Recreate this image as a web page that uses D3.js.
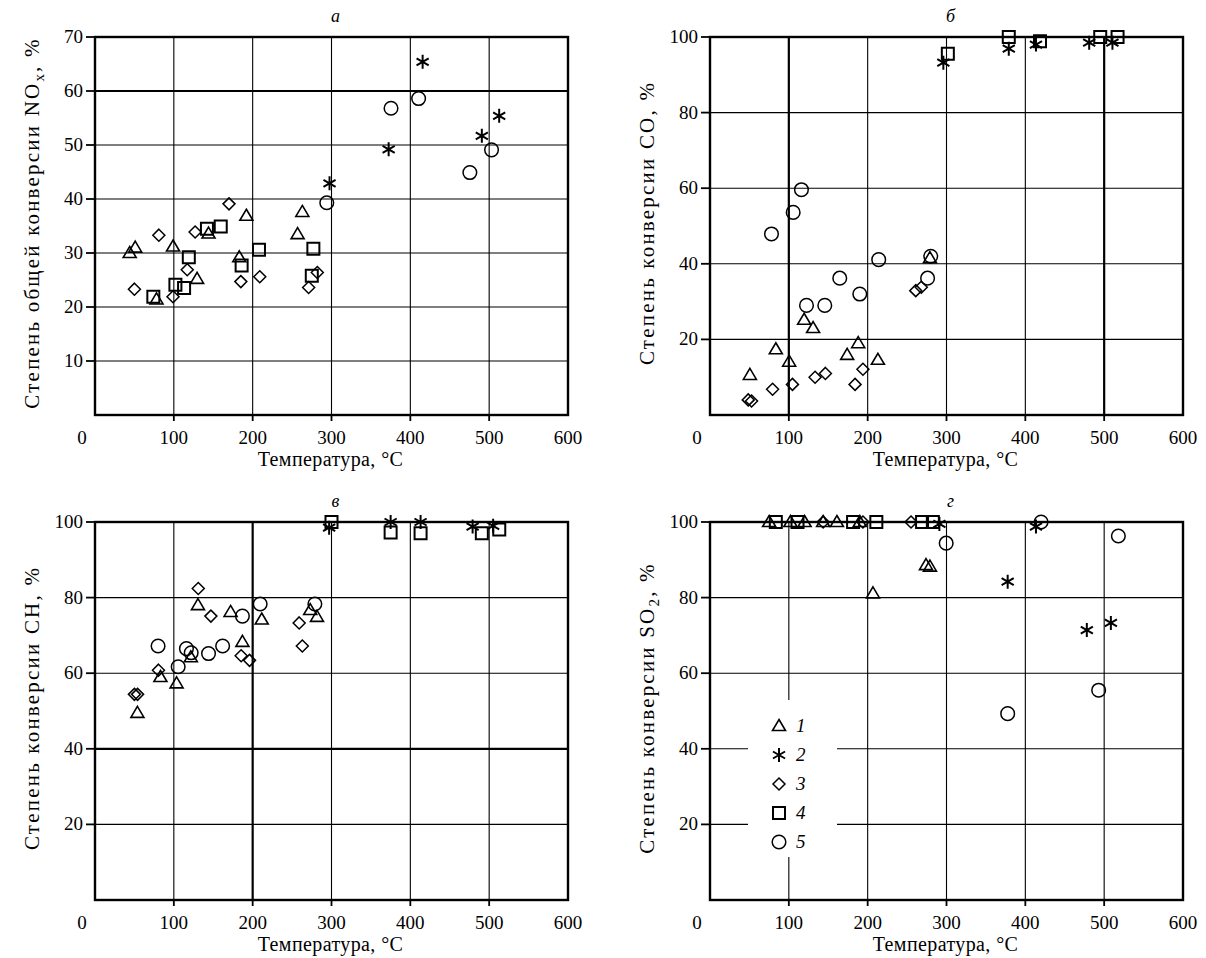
<!DOCTYPE html>
<html>
<head>
<meta charset="utf-8">
<script src="https://cdn.jsdelivr.net/npm/d3@7"></script>
<style>
body { margin: 0; background: #fff; }
svg text { font-family: "Liberation Serif", "DejaVu Serif", serif; fill: #000; }
</style>
</head>
<body>
<svg id="fig" width="1206" height="958" font-family="Liberation Serif"></svg>
<script>
// ---- data: [temperature, conversion %] ----
var xTicks = [100, 200, 300, 400, 500, 600];
var yTicksA = [10, 20, 30, 40, 50, 60, 70];
var yTicks100 = [20, 40, 60, 80, 100];
var legendLabels = ['1', '2', '3', '4', '5'];

// а : NOx
var aTri  = [[44,30.0],[51,31.0],[78,21.4],[99,31.2],[129.5,25.2],[144,33.6],[183,29.2],[192,36.9],[257,33.5],[263,37.6]];
var aStar = [[297.5,42.9],[372.5,49.2],[415.6,65.4],[490.7,51.7],[512.7,55.4]];
var aDiam = [[50,23.3],[81,33.3],[99,21.9],[117,26.9],[127,33.9],[170,39.1],[185,24.7],[209,25.6],[271,23.6],[282,26.4]];
var aSq   = [[74,21.9],[102,24.1],[113,23.5],[119,29.2],[142,34.5],[159.5,34.9],[186,27.7],[208,30.6],[275,25.8],[277,30.8]];
var aCirc = [[294,39.3],[375.5,56.8],[410.5,58.6],[475.5,44.9],[503,49.1]];

// б : CO
var bTri  = [[50.6,10.6],[83.5,17.4],[100.4,14.1],[119.4,25.2],[130.8,23.0],[174,15.9],[188,19.0],[213,14.6],[279,41.5]];
var bStar = [[296,93.2],[379,96.9],[413.5,98],[481,98.5],[510.5,98.5]];
var bDiam = [[48.5,4.0],[52.7,3.7],[79.4,6.8],[104.6,8.1],[133.3,10.0],[146.4,11.0],[184,8.1],[194,12.1],[261,32.9],[268,33.8]];
var bSq   = [[301.7,95.6],[379,100],[418.6,98.9],[495,100],[517,100]];
var bCirc = [[78,47.9],[105.5,53.6],[116,59.6],[122.4,29.0],[145.6,29.0],[164.6,36.2],[190,32.0],[214,41.1],[276,36.2],[280,42]];

// в : CH
var cTri  = [[53.8,49.5],[83,59.0],[103.5,57.3],[121.6,64.2],[130.6,78.0],[172,76.2],[187,68.3],[211.5,74.2],[273,76.7],[281.6,74.9]];
var cStar = [[297,98.5],[375,100],[413,100],[479,98.8],[505,99]];
var cDiam = [[50,54.4],[54,54.4],[80.5,60.8],[131,82.4],[147,75.1],[185.4,64.6],[196,63.4],[259,73.3],[263,67.2]];
var cSq   = [[300,100],[375,97.2],[413,97],[490.7,97],[512.8,98]];
var cCirc = [[80,67.2],[105.5,61.7],[116,66.5],[122,65.4],[144,65.2],[161.9,67.2],[187,75.1],[209.5,78.3],[278.9,78.3]];

// г : SO2
var dTri  = [[75,100],[102,100],[120,100],[143.5,100],[161,100],[190,100],[206.7,81.1],[274,88.6],[279,88.2]];
var dStar = [[291,99.5],[377.6,84.2],[413.5,98.8],[478,71.4],[508.5,73.3]];
var dDiam = [[143.5,100],[194,100],[255,100]];
var dSq   = [[83.5,100],[111,100],[181.5,100],[211,100],[269,100],[282.7,100]];
var dCirc = [[299.6,94.4],[377.6,49.3],[420,100],[493,55.5],[518,96.3]];

var svg = d3.select('#fig');
var W = 473, H = 378;

// marker path builders
function markerPath(kind) {
  if (kind == 'tri') return 'M0,-6.5L6.5,4.5L-6.5,4.5Z';
  if (kind == 'sq') return 'M-6,-6H6V6H-6Z';
  if (kind == 'diam') return 'M0,-6L6,0L0,6L-6,0Z';
  if (kind == 'circ') return 'M6.8,0A6.8,6.8 0 1 1 -6.8,0A6.8,6.8 0 1 1 6.8,0Z';
  // asterisk: vertical + two diagonals
  var r = 7, t = r / 2, u = t * Math.sqrt(3);
  return 'M0,' + r + 'L0,' + (-r) + 'M' + (-u) + ',' + (-t) + 'L' + u + ',' + t +
         'M' + (-u) + ',' + t + 'L' + u + ',' + (-t);
}
var kinds = ['tri', 'star', 'diam', 'sq', 'circ'];
var strokeW = {tri: 1.6, star: 2, diam: 1.5, sq: 2, circ: 1.5};

function drawPanel(p) {
  var g = svg.append('g').attr('transform', 'translate(' + [p.left, p.top] + ')');
  var x = d3.scaleLinear().domain([0, 600]).range([0, W]);
  var y = d3.scaleLinear().domain([0, p.ymax]).range([H, 0]);

  // grid
  g.selectAll('.vg').data([100, 200, 300, 400, 500]).enter().append('line')
    .attr('x1', function(d) { return x(d); }).attr('x2', function(d) { return x(d); })
    .attr('y1', 0).attr('y2', H)
    .attr('stroke', '#000')
    .attr('stroke-width', function(d) { return p.boldX.indexOf(d) >= 0 ? 2.2 : 1.1; });
  g.selectAll('.hg').data(p.yticks.slice(0, -1)).enter().append('line')
    .attr('x1', 0).attr('x2', W)
    .attr('y1', function(d) { return y(d); }).attr('y2', function(d) { return y(d); })
    .attr('stroke', '#000')
    .attr('stroke-width', function(d) { return p.boldY.indexOf(d) >= 0 ? 2.2 : 1.1; });

  // white box for legend (panel г)
  if (p.legend) {
    g.append('rect').attr('x', 38).attr('y', 178).attr('width', 89).attr('height', 157)
      .attr('fill', '#fff');
  }

  // frame
  g.append('rect').attr('x', 0).attr('y', 0).attr('width', W).attr('height', H)
    .attr('fill', 'none').attr('stroke', '#000').attr('stroke-width', 2.4);

  // y ticks + labels
  g.selectAll('.yt').data(p.yticks).enter().append('line')
    .attr('x1', -9).attr('x2', 0)
    .attr('y1', function(d) { return y(d); }).attr('y2', function(d) { return y(d); })
    .attr('stroke', '#000').attr('stroke-width', 1.8);
  g.selectAll('.yl').data(p.yticks).enter().append('text')
    .attr('x', -12).attr('y', function(d) { return y(d) + 6; })
    .attr('text-anchor', 'end').attr('font-size', 19)
    .text(function(d) { return d; });

  // x ticks + labels
  g.selectAll('.xt').data(xTicks.slice(0, -1)).enter().append('line')
    .attr('x1', function(d) { return x(d); }).attr('x2', function(d) { return x(d); })
    .attr('y1', H).attr('y2', H + 6)
    .attr('stroke', '#000').attr('stroke-width', 1.8);
  g.selectAll('.xl').data(xTicks).enter().append('text')
    .attr('x', function(d) { return x(d); }).attr('y', H + 29)
    .attr('text-anchor', 'middle').attr('font-size', 19)
    .text(function(d) { return d; });
  g.append('text').attr('x', -13).attr('y', H + 29).attr('text-anchor', 'middle')
    .attr('font-size', 19).text('0');

  g.append('text').attr('x', W / 2 - 1).attr('y', H + 51).attr('text-anchor', 'middle')
    .attr('font-size', 20).attr('letter-spacing', 0.4).text('Температура, °C');

  g.append('text').attr('x', W / 2 + 4).attr('y', -15).attr('text-anchor', 'middle')
    .attr('font-size', 18).attr('font-style', 'italic').text(p.title);

  // y label
  var yl = g.append('text').attr('transform', 'translate(' + [p.ylabX, H / 2 - 3] + ') rotate(-90)')
    .attr('text-anchor', 'middle').attr('font-size', 21).attr('letter-spacing', 2.2);
  yl.append('tspan').text(p.ylab[0]);
  if (p.ylab[1]) {
    yl.append('tspan').attr('dy', 5).attr('font-size', 15).text(p.ylab[1]);
    yl.append('tspan').attr('dy', -5).text(p.ylab[2]);
  }

  // markers
  p.series.forEach(function(s, i) {
    var k = kinds[i];
    g.selectAll('.m' + i).data(s).enter().append('path')
      .attr('d', markerPath(k))
      .attr('transform', function(d) { return 'translate(' + [x(d[0]), y(d[1])] + ')'; })
      .attr('fill', 'none').attr('stroke', '#000').attr('stroke-width', strokeW[k]);
  });

  // legend
  if (p.legend) {
    var lg = g.selectAll('.lg').data(legendLabels).enter().append('g')
      .attr('transform', function(d, i) { return 'translate(' + [69, 204 + i * 29] + ')'; });
    lg.append('path').attr('d', function(d, i) { return markerPath(kinds[i]); })
      .attr('fill', 'none').attr('stroke', '#000')
      .attr('stroke-width', function(d, i) { return strokeW[kinds[i]]; });
    lg.append('text').attr('x', 17).attr('y', 6).attr('font-size', 19)
      .attr('font-style', 'italic').text(function(d) { return d; });
  }
}

drawPanel({left: 95, top: 37, ymax: 70, yticks: yTicksA, boldX: [], boldY: [60],
  title: 'а', ylabX: -56, ylab: ['Степень общей конверсии NO', 'x', ', %'],
  series: [aTri, aStar, aDiam, aSq, aCirc]});
drawPanel({left: 710, top: 37, ymax: 100, yticks: yTicks100, boldX: [100, 500], boldY: [],
  title: 'б', ylabX: -56, ylab: ['Степень конверсии CO, %'],
  series: [bTri, bStar, bDiam, bSq, bCirc]});
drawPanel({left: 95, top: 522, ymax: 100, yticks: yTicks100, boldX: [200], boldY: [40],
  title: 'в', ylabX: -56, ylab: ['Степень конверсии CH, %'],
  series: [cTri, cStar, cDiam, cSq, cCirc]});
drawPanel({left: 710, top: 522, ymax: 100, yticks: yTicks100, boldX: [], boldY: [],
  title: 'г', ylabX: -56, ylab: ['Степень конверсии SO', '2', ', %'],
  series: [dTri, dStar, dDiam, dSq, dCirc], legend: true});
</script>
</body>
</html>
